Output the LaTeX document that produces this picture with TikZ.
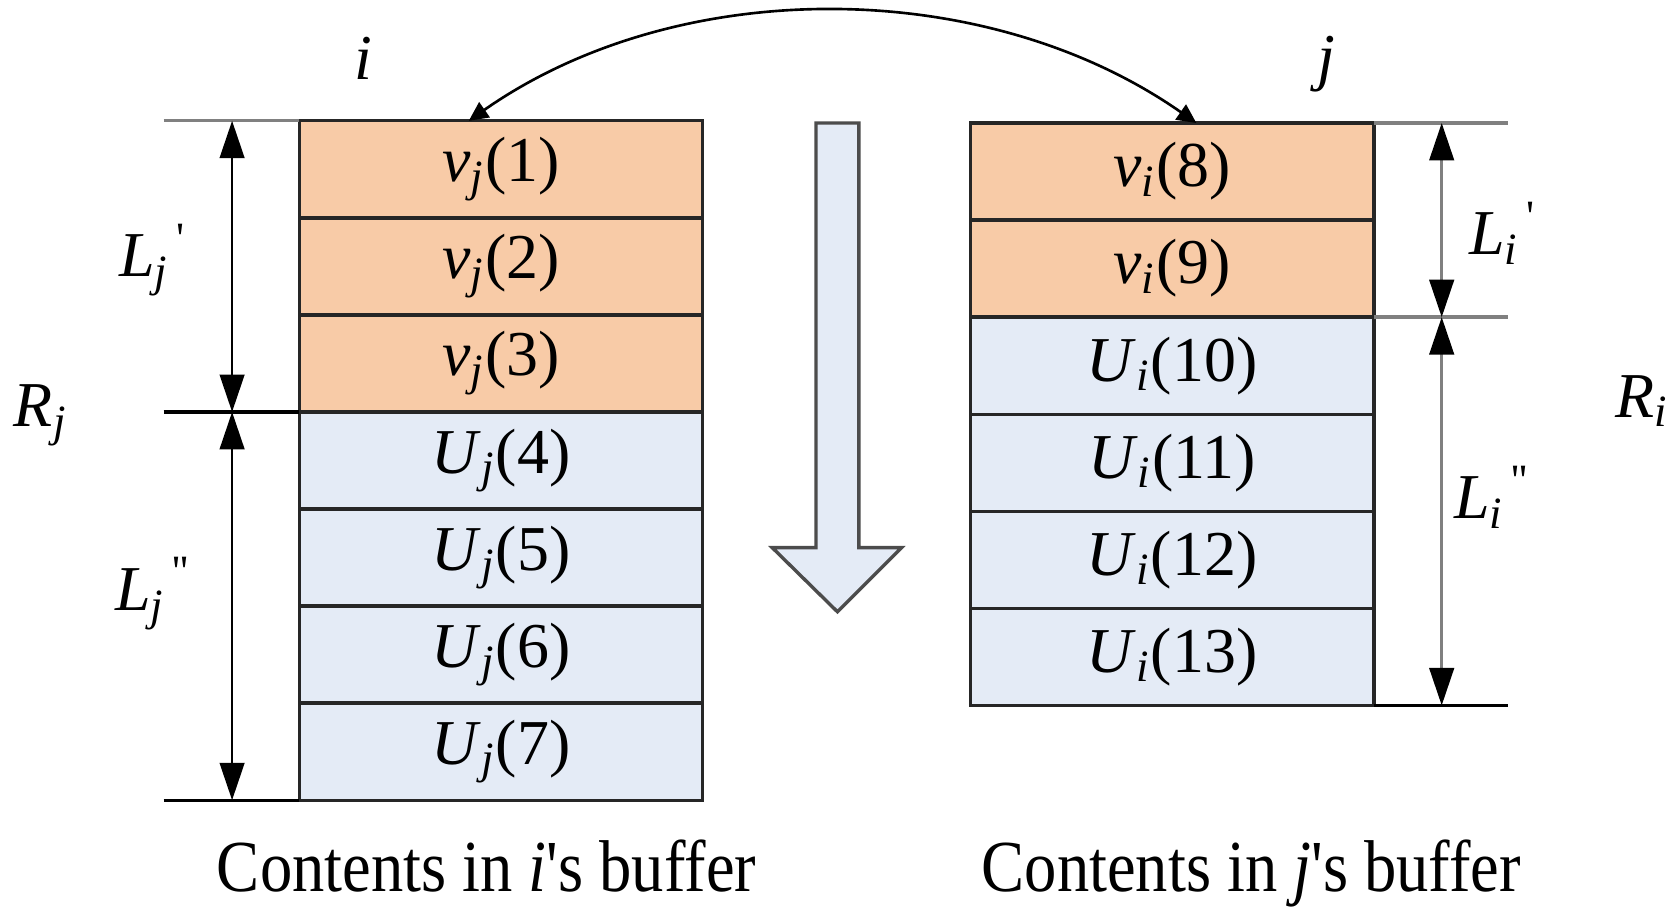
\documentclass[tikz,border=0pt]{standalone}
\usepackage{fontspec}
\usepackage{graphicx}
\setmainfont{Liberation Serif}
\usetikzlibrary{positioning,arrows.meta,calc}

\definecolor{peach}{RGB}{248,203,167}
\definecolor{paleblue}{RGB}{228,235,246}
\definecolor{rulegray}{RGB}{128,128,128}

\newcommand{\vs}[2]{\textit{#1}\textsubscript{\textit{#2}}}
\newcommand{\pr}{\textquotesingle}

\tikzset{
  cell/.style={draw=black!85, line width=0.9pt, minimum width=3.77cm, minimum height=0.907cm,
    inner sep=0pt, outer sep=0pt, font=\fontsize{17}{20}\selectfont},
  vcell/.style={cell, fill=peach},
  ucell/.style={cell, fill=paleblue},
  lbl/.style={font=\fontsize{17}{20}\selectfont},
  caption/.style={font=\fontsize{19.5}{22}\selectfont, anchor=base, inner sep=0pt},
  ext/.style={line width=0.9pt},
  dim/.style={line width=0.7pt, {Triangle[length=3.5mm,width=2.3mm,color=black]}-{Triangle[length=3.5mm,width=2.3mm,color=black]}},
  swap/.style={line width=0.7pt, {Triangle[length=1.8mm,width=1.7mm]}-{Triangle[length=1.8mm,width=1.7mm]}}
}

\begin{document}
\begin{tikzpicture}[x=0.01cm,y=0.01cm]
    \useasboundingbox (0,0) rectangle (1568,850);
    % buffer of i
    \node[vcell] (l1) at (468.5,691.7) {\vs{v}{j}(1)};
    \node[vcell,below=0pt of l1] (l2) {\vs{v}{j}(2)};
    \node[vcell,below=0pt of l2] (l3) {\vs{v}{j}(3)};
    \node[ucell,below=0pt of l3] (l4) {\vs{U}{j}(4)};
    \node[ucell,below=0pt of l4] (l5) {\vs{U}{j}(5)};
    \node[ucell,below=0pt of l5] (l6) {\vs{U}{j}(6)};
    \node[ucell,below=0pt of l6] (l7) {\vs{U}{j}(7)};
    % buffer of j
    \node[vcell] (r1) at (1096,689.6) {\vs{v}{i}(8)};
    \node[vcell,below=0pt of r1] (r2) {\vs{v}{i}(9)};
    \node[ucell,below=0pt of r2] (r3) {\vs{U}{i}(10)};
    \node[ucell,below=0pt of r3] (r4) {\vs{U}{i}(11)};
    \node[ucell,below=0pt of r4] (r5) {\vs{U}{i}(12)};
    \node[ucell,below=0pt of r5] (r6) {\vs{U}{i}(13)};
    % extension and dimension lines
    \coordinate (extL) at (153,0);
    \coordinate (extR) at (1410,0);
    \coordinate (dimL) at (217,0);
    \coordinate (dimR) at (1348,0);
    \draw[ext,rulegray] (extL |- l1.north) -- (l1.north west);
    \draw[ext] (extL |- l4.north) -- (l4.north west);
    \draw[ext] (extL |- l7.south) -- (l7.south west);
    \draw[ext,rulegray] (r1.north east) -- (extR |- r1.north);
    \draw[ext,rulegray] (r3.north east) -- (extR |- r3.north);
    \draw[ext] (r6.south east) -- (extR |- r6.south);
    \draw[dim] (dimL |- l1.north) -- (dimL |- l4.north);
    \draw[dim] (dimL |- l4.north) -- (dimL |- l7.south);
    \draw[dim,rulegray] (dimR |- r1.north) -- (dimR |- r3.north);
    \draw[dim,rulegray] (dimR |- r3.north) -- (dimR |- r6.south);
    % labels
    \node[lbl] (ti) at (340,795) {\textit{i}};
    \node[lbl] (tj) at (1240,790) {\textit{j}};
    \node[lbl] (Ljp) at (143,607) {\vs{L}{j}\textsuperscript{\,\pr}};
    \node[lbl] (Ljpp) at (143,295) {\vs{L}{j}\textsuperscript{\,\pr\pr}};
    \node[lbl] (Rj) at (38,462) {\vs{R}{j}};
    \node[lbl] (Lip) at (1405,632) {\vs{L}{i}\textsuperscript{\,\pr}};
    \node[lbl] (Lipp) at (1395,385) {\vs{L}{i}\textsuperscript{\,\pr\pr}};
    \node[lbl] (Ri) at (1535,475) {\vs{R}{i}};
    \node[caption] (capi) at (455,16) {\scalebox{0.88}[1]{Contents in \textit{i}\pr s buffer}};
    \node[caption] (capj) at (1170,16) {\scalebox{0.88}[1]{Contents in \textit{j}\pr s buffer}};
    % exchange between the two buffers
    \coordinate (dstL) at ($(l1.north west)!0.42!(l1.north east)$);
    \coordinate (srcR) at ($(r1.north west)!0.56!(r1.north east)$);
    \draw[swap] (srcR) to[out=145,in=35,looseness=0.9] (dstL);
    % order of sending
    \draw[fill=paleblue,draw=black!70,line width=0.9pt]
      (763,735) -- (803,735) -- (803,338) -- (843,338) -- (783,278) -- (722,338) -- (763,338) -- cycle;
\end{tikzpicture}
\end{document}
